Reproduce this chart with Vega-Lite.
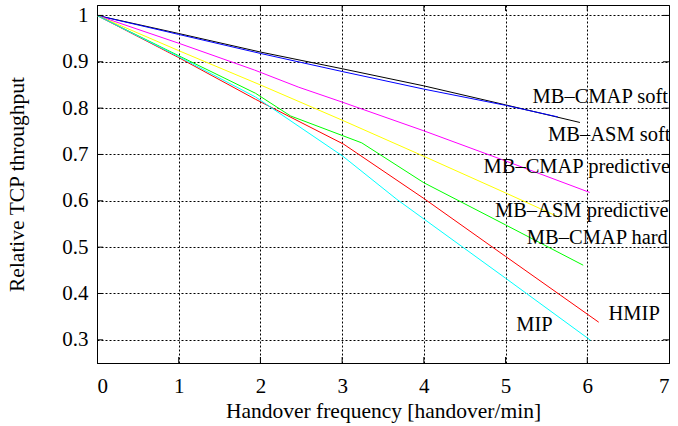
{
  "$schema": "https://vega.github.io/schema/vega-lite/v6.json",
  "width": 572,
  "height": 358,
  "autosize": "none",
  "padding": {"left": 97, "top": 5, "right": 9, "bottom": 63},
  "background": "white",
  "config": {
    "view": {"stroke": "black", "strokeWidth": 1},
    "font": "Liberation Serif",
    "axis": {
      "labelFont": "Liberation Serif",
      "labelFontSize": 21,
      "labelColor": "black",
      "titleFont": "Liberation Serif",
      "titleFontSize": 21.5,
      "titleFontWeight": "normal",
      "titleColor": "black",
      "domainColor": "black",
      "ticks": false,
      "gridColor": "black",
      "gridDash": [2, 2],
      "gridOpacity": 1,
      "gridWidth": 1
    }
  },
  "datasets": {
    "curves": [
      {"series": "MB-CMAP soft", "x": 0, "y": 1},
      {"series": "MB-CMAP soft", "x": 1, "y": 0.961},
      {"series": "MB-CMAP soft", "x": 2, "y": 0.921},
      {"series": "MB-CMAP soft", "x": 3, "y": 0.885},
      {"series": "MB-CMAP soft", "x": 4, "y": 0.848},
      {"series": "MB-CMAP soft", "x": 5, "y": 0.807},
      {"series": "MB-CMAP soft", "x": 5.91, "y": 0.769},
      {"series": "MB-ASM soft", "x": 0, "y": 1},
      {"series": "MB-ASM soft", "x": 1, "y": 0.959},
      {"series": "MB-ASM soft", "x": 2, "y": 0.918},
      {"series": "MB-ASM soft", "x": 3, "y": 0.879},
      {"series": "MB-ASM soft", "x": 4, "y": 0.841},
      {"series": "MB-ASM soft", "x": 5, "y": 0.806},
      {"series": "MB-ASM soft", "x": 5.64, "y": 0.781},
      {"series": "MB-CMAP predictive", "x": 0, "y": 1},
      {"series": "MB-CMAP predictive", "x": 1, "y": 0.94},
      {"series": "MB-CMAP predictive", "x": 1.93, "y": 0.882},
      {"series": "MB-CMAP predictive", "x": 2.47, "y": 0.845},
      {"series": "MB-CMAP predictive", "x": 3, "y": 0.813},
      {"series": "MB-CMAP predictive", "x": 4, "y": 0.751},
      {"series": "MB-CMAP predictive", "x": 5, "y": 0.686},
      {"series": "MB-CMAP predictive", "x": 6.03, "y": 0.618},
      {"series": "MB-ASM predictive", "x": 0, "y": 1},
      {"series": "MB-ASM predictive", "x": 1, "y": 0.924},
      {"series": "MB-ASM predictive", "x": 2, "y": 0.85},
      {"series": "MB-ASM predictive", "x": 3, "y": 0.774},
      {"series": "MB-ASM predictive", "x": 4, "y": 0.696},
      {"series": "MB-ASM predictive", "x": 5, "y": 0.617},
      {"series": "MB-ASM predictive", "x": 5.65, "y": 0.565},
      {"series": "MB-CMAP hard", "x": 0, "y": 1},
      {"series": "MB-CMAP hard", "x": 1, "y": 0.913},
      {"series": "MB-CMAP hard", "x": 1.94, "y": 0.832},
      {"series": "MB-CMAP hard", "x": 2.37, "y": 0.783},
      {"series": "MB-CMAP hard", "x": 3.24, "y": 0.725},
      {"series": "MB-CMAP hard", "x": 4, "y": 0.639},
      {"series": "MB-CMAP hard", "x": 5, "y": 0.548},
      {"series": "MB-CMAP hard", "x": 5.95, "y": 0.461},
      {"series": "HMIP", "x": 0, "y": 1},
      {"series": "HMIP", "x": 1, "y": 0.909},
      {"series": "HMIP", "x": 1.94, "y": 0.819},
      {"series": "HMIP", "x": 3.02, "y": 0.722},
      {"series": "HMIP", "x": 4, "y": 0.605},
      {"series": "HMIP", "x": 5, "y": 0.48},
      {"series": "HMIP", "x": 6.14, "y": 0.338},
      {"series": "MIP", "x": 0, "y": 1},
      {"series": "MIP", "x": 1, "y": 0.911},
      {"series": "MIP", "x": 1.94, "y": 0.824},
      {"series": "MIP", "x": 3.01, "y": 0.696},
      {"series": "MIP", "x": 3.67, "y": 0.603},
      {"series": "MIP", "x": 5, "y": 0.433},
      {"series": "MIP", "x": 6.04, "y": 0.299}
    ],
    "labels": [
      {"text": "MB–CMAP soft", "x": 5.33, "y": 0.824},
      {"text": "MB–ASM soft", "x": 5.52, "y": 0.743},
      {"text": "MB–CMAP predictive", "x": 4.73, "y": 0.672},
      {"text": "MB–ASM predictive", "x": 4.87, "y": 0.578},
      {"text": "MB–CMAP hard", "x": 5.26, "y": 0.519},
      {"text": "HMIP", "x": 6.26, "y": 0.355},
      {"text": "MIP", "x": 5.13, "y": 0.331}
    ],
    "yticks": [{"v": 0.3}, {"v": 0.4}, {"v": 0.5}, {"v": 0.6}, {"v": 0.7}, {"v": 0.8}, {"v": 0.9}, {"v": 1}],
    "xticks": [{"v": 1}, {"v": 2}, {"v": 3}, {"v": 4}, {"v": 5}, {"v": 6}]
  },
  "layer": [
    {
      "data": {"name": "curves"},
      "mark": {"type": "line", "strokeWidth": 1, "clip": true},
      "encoding": {
        "x": {
          "field": "x", "type": "quantitative",
          "scale": {"domain": [0, 7], "nice": false, "zero": false},
          "axis": {
            "values": [0, 1, 2, 3, 4, 5, 6, 7],
            "format": "d",
            "grid": true,
            "labelPadding": 12,
            "title": "Handover frequency [handover/min]",
            "titleBaseline": "alphabetic",
            "titleY": 54
          }
        },
        "y": {
          "field": "y", "type": "quantitative",
          "scale": {"domain": [0.25, 1.0225], "nice": false, "zero": false},
          "axis": {
            "values": [0.3, 0.4, 0.5, 0.6, 0.7, 0.8, 0.9, 1],
            "format": "~g",
            "grid": true,
            "labelPadding": 9,
            "title": "Relative TCP throughput",
            "titleAngle": 270,
            "titleBaseline": "alphabetic",
            "titleAlign": "center",
            "titleX": -74,
            "titleY": 179
          }
        },
        "color": {
          "field": "series", "type": "nominal",
          "scale": {
            "domain": ["MB-ASM soft", "MB-CMAP soft", "MB-CMAP predictive", "MB-ASM predictive", "MB-CMAP hard", "HMIP", "MIP"],
            "range": ["#0000ff", "#000000", "#ff00ff", "#ffff00", "#00ff00", "#ff0000", "#00ffff"]
          },
          "legend": null
        },
        "order": {"field": "x", "type": "quantitative"}
      }
    },
    {
      "data": {"name": "yticks"},
      "mark": {"type": "rule", "color": "black", "strokeWidth": 1},
      "encoding": {
        "y": {"field": "v", "type": "quantitative"},
        "x": {"datum": 0},
        "x2": {"datum": 0.075}
      }
    },
    {
      "data": {"name": "yticks"},
      "mark": {"type": "rule", "color": "black", "strokeWidth": 1},
      "encoding": {
        "y": {"field": "v", "type": "quantitative"},
        "x": {"datum": 6.925},
        "x2": {"datum": 7}
      }
    },
    {
      "data": {"name": "xticks"},
      "mark": {"type": "rule", "color": "black", "strokeWidth": 1},
      "encoding": {
        "x": {"field": "v", "type": "quantitative"},
        "y": {"datum": 0.25},
        "y2": {"datum": 0.263}
      }
    },
    {
      "data": {"name": "xticks"},
      "mark": {"type": "rule", "color": "black", "strokeWidth": 1},
      "encoding": {
        "x": {"field": "v", "type": "quantitative"},
        "y": {"datum": 1.0095},
        "y2": {"datum": 1.0225}
      }
    },
    {
      "data": {"name": "labels"},
      "mark": {"type": "text", "font": "Liberation Serif", "fontSize": 20.5, "align": "left", "baseline": "middle", "color": "black", "clip": true},
      "encoding": {
        "x": {"field": "x", "type": "quantitative"},
        "y": {"field": "y", "type": "quantitative"},
        "text": {"field": "text"}
      }
    }
  ]
}
